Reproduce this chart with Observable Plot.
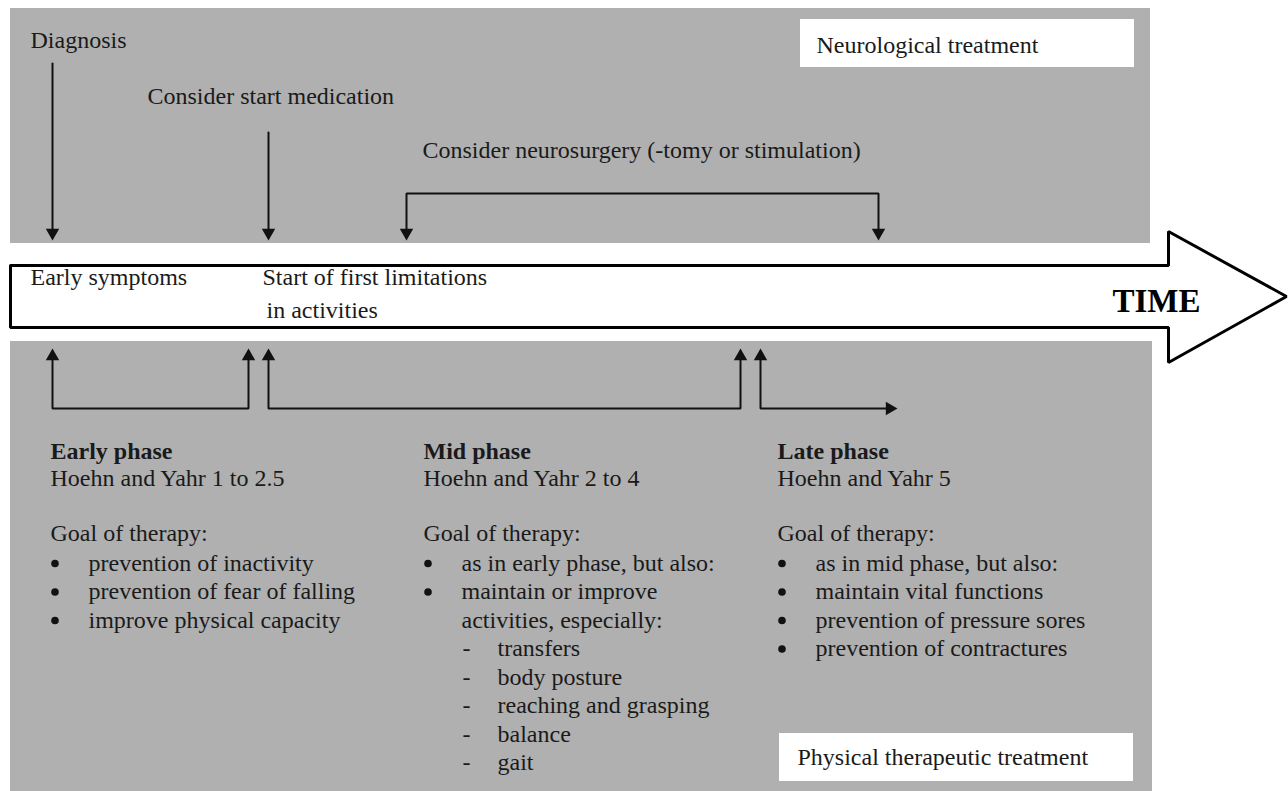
<!DOCTYPE html>
<html><head><meta charset="utf-8">
<script src="https://cdn.jsdelivr.net/npm/d3@7"></script>
<script src="https://cdn.jsdelivr.net/npm/@observablehq/plot@0.6"></script>
<style>html,body{margin:0;padding:0;background:#fff;} svg{display:block;}</style>
</head><body><div id="chart"></div>
<script>
// ---------- content (text) ----------
const eventLabels = ["Diagnosis", "Consider start medication", "Consider neurosurgery (-tomy or stimulation)"];
const timelineLabels = ["Early symptoms", "Start of first limitations", "in activities"];
const timeLabel = "TIME";
const panelLabels = ["Neurological treatment", "Physical therapeutic treatment"];
const phaseTitles = ["Early phase", "Mid phase", "Late phase"];
const phaseStages = ["Hoehn and Yahr 1 to 2.5", "Hoehn and Yahr 2 to 4", "Hoehn and Yahr 5"];
const goalLabel = "Goal of therapy:";
const earlyItems = ["prevention of inactivity", "prevention of fear of falling", "improve physical capacity"];
const earlyMarkers = ["bullet", "bullet", "bullet"];
const midItems = ["as in early phase, but also:", "maintain or improve", "activities, especially:", "transfers", "body posture", "reaching and grasping", "balance", "gait"];
const midMarkers = ["bullet", "bullet", "", "-", "-", "-", "-", "-"];
const lateItems = ["as in mid phase, but also:", "maintain vital functions", "prevention of pressure sores", "prevention of contractures"];
const lateMarkers = ["bullet", "bullet", "bullet", "bullet"];

// ---------- layout (pixels) ----------
const eventX = [30, 147, 422], eventY = [47, 103, 157];
const timelineX = [30, 262, 266], timelineY = [284, 284, 317];
const panelX1 = [10, 10], panelX2 = [1150, 1152], panelY1 = [8, 341], panelY2 = [243, 791];
const boxX1 = [800, 779], boxX2 = [1134, 1133], boxY1 = [19, 733], boxY2 = [67, 781];
const boxTextX = [816, 797], boxTextY = [52, 764];
const arrowOutlineX = [10, 1168, 1168, 1286, 1168, 1168, 10, 10];
const arrowOutlineY = [265, 265, 231, 296, 362, 327, 327, 265];
const connGroup = [0,0, 1,1, 2,2,2,2, 3,3,3,3, 4,4,4,4, 5,5,5];
const connX = [52,52, 268,268, 406,406,878,878, 52,52,248,248, 268,268,740,740, 760,760,890];
const connY = [63,233, 132,233, 233,193,193,233, 356,408,408,356, 356,408,408,356, 356,408,408];
const headX = [52, 268, 406, 878, 52, 248, 268, 740, 760, 897];
const headY = [240, 240, 240, 240, 348, 348, 348, 348, 348, 408];
const headDir = ["down","down","down","down","up","up","up","up","up","right"];
const phaseX = [50, 423, 777];
const titleY = 458, stageY = 485, goalY = 540, itemY0 = 570, rowStep = 28.5;
const bulletDX = 4.5, bulletDY = -7, bulletTextDX = 38, dashDX = 39, dashTextDX = 74;

// ---------- build tables ----------
const grey = "#b0b0b0", ink = "#1a1a1a", font = "Liberation Serif";
const panels = panelX1.map((_, i) => ({x1: panelX1[i], x2: panelX2[i], y1: panelY1[i], y2: panelY2[i]}));
const boxes = boxX1.map((_, i) => ({x1: boxX1[i], x2: boxX2[i], y1: boxY1[i], y2: boxY2[i], tx: boxTextX[i], ty: boxTextY[i], text: panelLabels[i]}));
const outline = arrowOutlineX.map((x, i) => ({x, y: arrowOutlineY[i]}));
const conns = connX.map((x, i) => ({x, y: connY[i], g: connGroup[i]}));
const r = 5, tipOffset = 2 * Math.sqrt(Math.PI * r * r / (3 * Math.sqrt(3))), rot = {down: 180, up: 0, right: 90};
const heads = headX.map((x, i) => {
  const d = headDir[i];
  return {x: d === "right" ? x - tipOffset : x,
          y: d === "down" ? headY[i] - tipOffset : d === "up" ? headY[i] + tipOffset : headY[i],
          r: rot[d]};
});
const texts = [], bullets = [];
eventLabels.forEach((t, i) => texts.push({x: eventX[i], y: eventY[i], text: t}));
timelineLabels.forEach((t, i) => texts.push({x: timelineX[i], y: timelineY[i], text: t}));
boxes.forEach(b => texts.push({x: b.tx, y: b.ty, text: b.text}));
const bold = [];
phaseTitles.forEach((t, i) => {
  bold.push({x: phaseX[i], y: titleY, text: t});
  texts.push({x: phaseX[i], y: stageY, text: phaseStages[i]});
  texts.push({x: phaseX[i], y: goalY, text: goalLabel});
});
[[earlyItems, earlyMarkers], [midItems, midMarkers], [lateItems, lateMarkers]].forEach(([items, markers], c) => {
  items.forEach((t, k) => {
    const y = itemY0 + rowStep * k;
    const m = markers[k];
    if (m === "bullet") bullets.push({x: phaseX[c] + bulletDX, y: y + bulletDY});
    if (m === "-") texts.push({x: phaseX[c] + dashDX, y, text: m});
    const dx = (m === "-") ? dashTextDX : bulletTextDX;
    texts.push({x: phaseX[c] + dx, y, text: t});
  });
});

const chart = Plot.plot({
  width: 1288, height: 791, margin: 0,
  x: {domain: [0, 1288], range: [0, 1288], axis: null},
  y: {domain: [0, 791], range: [0, 791], axis: null},
  style: {background: "#fff"},
  marks: [
    Plot.rect(panels, {x1: "x1", x2: "x2", y1: "y1", y2: "y2", fill: grey}),
    Plot.rect(boxes, {x1: "x1", x2: "x2", y1: "y1", y2: "y2", fill: "#fff"}),
    Plot.line(outline, {x: "x", y: "y", fill: "#fff", stroke: "#000", strokeWidth: 3, strokeLinejoin: "miter", curve: "linear"}),
    Plot.line(conns, {x: "x", y: "y", z: "g", stroke: "#111", strokeWidth: 2, strokeLinejoin: "miter"}),
    Plot.dot(heads, {x: "x", y: "y", rotate: "r", symbol: "triangle", r, fill: "#111", stroke: "none"}),
    Plot.dot(bullets, {x: "x", y: "y", r: 3.8, fill: "#111", stroke: "none"}),
    Plot.text(texts, {x: "x", y: "y", text: "text", textAnchor: "start", lineAnchor: "bottom", fontSize: 24, fontFamily: font, fill: ink}),
    Plot.text(bold, {x: "x", y: "y", text: "text", textAnchor: "start", lineAnchor: "bottom", fontSize: 24, fontWeight: "bold", fontFamily: font, fill: ink}),
    Plot.text([timeLabel], {x: 1112, y: 311, text: d => d, textAnchor: "start", lineAnchor: "bottom", fontSize: 33, fontWeight: "bold", fontFamily: font, fill: "#000"})
  ]
});
document.getElementById("chart").appendChild(chart);
</script>
</body></html>
